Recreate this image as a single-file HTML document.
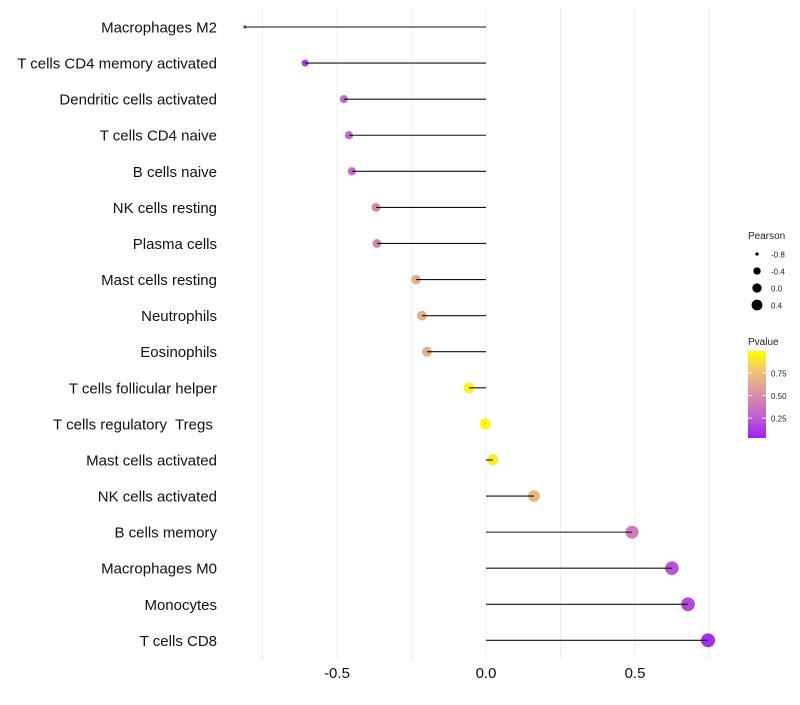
<!DOCTYPE html>
<html><head><meta charset="utf-8">
<style>
body{margin:0;background:#fff;font-family:"Liberation Sans",sans-serif;}
svg text{font-family:"Liberation Sans",sans-serif;white-space:pre;}
</style></head>
<body>
<svg id="chart" width="800" height="700">
<defs>
<linearGradient id="pgrad" x1="0" y1="1" x2="0" y2="0">
<stop offset="0" stop-color="#a020f0"/>
<stop offset="0.25" stop-color="#c060d0"/>
<stop offset="0.5" stop-color="#d890a8"/>
<stop offset="0.75" stop-color="#f0c07a"/>
<stop offset="1" stop-color="#ffff00"/>
</linearGradient>
</defs>
<g id="grid"></g><g id="marks"></g><g id="labels"></g><g id="legend"></g>
</svg>
<script>
const categories=["Macrophages M2","T cells CD4 memory activated","Dendritic cells activated","T cells CD4 naive","B cells naive","NK cells resting","Plasma cells","Mast cells resting","Neutrophils","Eosinophils","T cells follicular helper","T cells regulatory  Tregs ","Mast cells activated","NK cells activated","B cells memory","Macrophages M0","Monocytes","T cells CD8"];
const pearson=[-0.809,-0.607,-0.477,-0.460,-0.450,-0.369,-0.366,-0.235,-0.215,-0.198,-0.057,-0.002,0.023,0.161,0.490,0.624,0.678,0.745];
const pvalue=[0.02,0.1,0.3,0.3,0.3,0.45,0.45,0.65,0.65,0.65,0.95,0.99,0.93,0.7,0.4,0.2,0.15,0.05];
const xTicks=[-0.5,0,0.5];
const xTickLabels=["-0.5","0.0","0.5"];
const gridVals=[-0.75,-0.5,-0.25,0,0.25,0.5,0.75];
const sizeLegend=[-0.8,-0.4,0.0,0.4];
const sizeLegendLabels=["-0.8","-0.4","0.0","0.4"];
const pLegend=[0.25,0.5,0.75];
const pLegendLabels=["0.25","0.50","0.75"];

const NS="http://www.w3.org/2000/svg";
const xs=v=>486+v*298;
const ys=i=>27+i*36.08;
const rs=v=>1.5+5.5*Math.sqrt(Math.max(0,(v+0.81)/1.555));
const stops=[[0,[160,32,240]],[0.25,[192,96,208]],[0.5,[216,144,168]],[0.75,[240,192,122]],[1,[255,255,0]]];
function col(p){for(let i=1;i<stops.length;i++){if(p<=stops[i][0]){const a=stops[i-1],b=stops[i];const t=(p-a[0])/(b[0]-a[0]);const c=a[1].map((v,k)=>Math.round(v+(b[1][k]-v)*t));return `rgb(${c})`;}}return "rgb(255,255,0)";}
function mk(tag,attrs,parent,txt){const e=document.createElementNS(NS,tag);for(const k in attrs)e.setAttribute(k,attrs[k]);if(txt!==undefined)e.textContent=txt;parent.appendChild(e);return e;}
const grid=document.getElementById('grid'),marks=document.getElementById('marks'),labels=document.getElementById('labels'),legend=document.getElementById('legend');
gridVals.forEach(v=>{const l=mk('line',{x1:xs(v),x2:xs(v),y1:8,y2:660,stroke:'#efefef','stroke-width':1},grid);

});
xTicks.forEach((v,i)=>{const t=mk('text',{x:xs(v),y:678,'text-anchor':'middle','font-size':15,fill:'#111'},labels,xTickLabels[i]);

});
categories.forEach((c,i)=>{
const t=mk('text',{x:217,y:ys(i)+5.5,'text-anchor':'end','font-size':15,fill:'#111'},labels,c);


const p=mk('circle',{cx:xs(pearson[i]),cy:ys(i),r:rs(pearson[i]),fill:col(pvalue[i])},marks);


const s=mk('line',{x1:xs(pearson[i]),x2:xs(0),y1:ys(i),y2:ys(i),stroke:'#111','stroke-width':1.1},marks);


});
let lt=mk('text',{x:748,y:239,'font-size':10,fill:'#222'},legend,'Pearson');


sizeLegend.forEach((v,i)=>{const y=254+i*17;
const c=mk('circle',{cx:757,cy:y,r:rs(v)*0.85,fill:'#000'},legend);


const t=mk('text',{x:771,y:y+3.5,'font-size':8,fill:'#222'},legend,sizeLegendLabels[i]);

});
lt=mk('text',{x:748,y:345,'font-size':10,fill:'#222'},legend,'Pvalue');


const bar=mk('rect',{x:748,y:351,width:18,height:87,fill:'url(#pgrad)'},legend);


const py=p=>438-(p-0.03)/0.96*87;
pLegend.forEach((v,i)=>{
const t=mk('text',{x:771,y:py(v)+3.5,'font-size':8,fill:'#222'},legend,pLegendLabels[i]);


mk('line',{x1:748,x2:752,y1:py(v),y2:py(v),stroke:'#fff','stroke-width':0.8},legend);
mk('line',{x1:762,x2:766,y1:py(v),y2:py(v),stroke:'#fff','stroke-width':0.8},legend);});
</script>
</body></html>
